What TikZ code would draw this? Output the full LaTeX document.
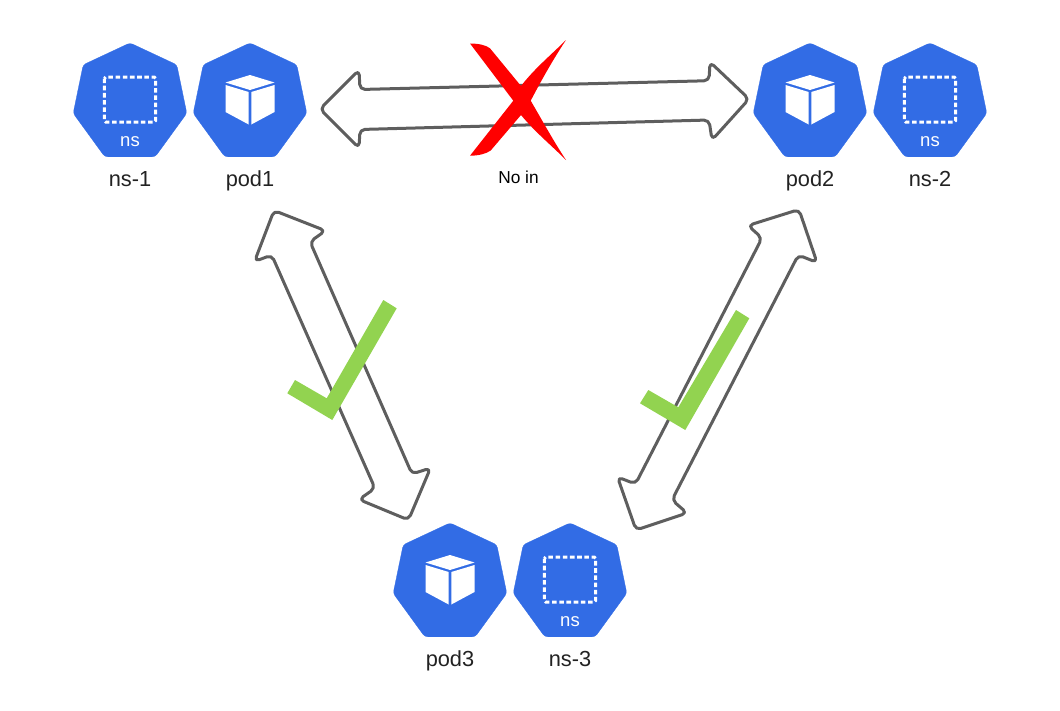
\documentclass[tikz,border=0pt]{standalone}
\usepackage{fontspec}
\setmainfont{Liberation Sans}
\definecolor{kblue}{HTML}{326CE5}
\definecolor{kgreen}{HTML}{92D350}
\definecolor{karrow}{HTML}{5E5E5E}
\definecolor{ktext}{HTML}{222222}
\tikzset{
  x=1pt,y=-1pt,
  hepta/.style={fill=kblue,draw=kblue,line width=.3pt,rounded corners=3pt,line join=round},
  blockarrow/.style={draw=karrow,line width=3pt,fill=white,rounded corners=5pt,line join=round},
  check/.style={fill=kgreen,draw=none},
  cross/.style={fill=red,draw=none},
  lbl/.style={text=ktext,font=\fontsize{21.8}{26}\selectfont,inner sep=0pt,anchor=base},
  small/.style={text=white,font=\fontsize{18.5}{22}\selectfont,inner sep=0pt,anchor=base},
  pics/heptagon/.style={code={
    \path[hepta] (0,-.1) -- (46.8,21.8) -- (56.8,70.3) -- (25.2,113.8) -- (-25.2,113.8) -- (-56.8,70.3) -- (-46.8,21.8) -- cycle;
  }},
  pics/cube/.style={code={
    \fill[white] (0,32) -- (24.5,39.5) -- (0,47) -- (-24.5,39.5) -- cycle;
    \fill[white] (-24.5,42) -- (-1.3,49) -- (-1.3,81.5) -- (-24.5,69) -- cycle;
    \fill[white] (24.5,42) -- (1.3,49) -- (1.3,81.5) -- (24.5,69) -- cycle;
  }},
  pics/nsbox/.style={code={
    \draw[white,line width=3pt,dash pattern=on 4.6pt off 2.6pt,rounded corners=1.5pt] (-25.7,34) rectangle (25.7,79);
    \node[small] (#1) at (0,103) {ns};
  }},
}
\begin{document}
\begin{tikzpicture}
\useasboundingbox (0,0) rectangle (1060,710);
% icons
\pic at (130,43) {heptagon}; \pic at (130,43) {nsbox=nsA};
\pic at (250,43) {heptagon}; \pic at (250,43) {cube};
\pic at (810,43) {heptagon}; \pic at (810,43) {cube};
\pic at (930,43) {heptagon}; \pic at (930,43) {nsbox=nsB};
\pic at (450,523) {heptagon}; \pic at (450,523) {cube};
\pic at (570,523) {heptagon}; \pic at (570,523) {nsbox=nsC};
% labels
\node[lbl] (l1) at (130,186.5) {ns-1};
\node[lbl] (l2) at (250,186.5) {pod1};
\node[lbl] (l3) at (810,186.5) {pod2};
\node[lbl] (l4) at (930,186.5) {ns-2};
\node[lbl] (l5) at (450,666.5) {pod3};
\node[lbl] (l6) at (570,666.5) {ns-3};
% block arrows
\draw[blockarrow] (320,109) -- (359,70) -- (360,89.5) -- (709,80.7) -- (710,62) -- (749,99) -- (712,140) -- (709,120) -- (360,129.5) -- (359,148) -- cycle;
\draw[blockarrow] (274,210.5) -- (325.5,230.7) -- (310,241.7) -- (412,474) -- (430.5,468) -- (408.5,520) -- (359,499.5) -- (375,488.3) -- (271.7,255) -- (254.5,261.5) -- cycle;
\draw[blockarrow] (799,209.5) -- (817,262.5) -- (798.3,255) -- (672,500) -- (687,513) -- (636,530) -- (617.5,477) -- (635.5,484) -- (762,238) -- (748,225.5) -- cycle;
% checks
\fill[check] (287.3,393.3) -- (295,380) -- (326.7,398.3) -- (383.3,300) -- (396.7,308.3) -- (332.3,420) -- cycle;
\fill[check] (640,403.3) -- (648.3,390) -- (678.3,407.3) -- (736,310) -- (749.3,318.3) -- (685.3,430) -- cycle;
% cross
\fill[cross] (470,43.5) .. controls (478,43.5) and (486,45) .. (490,48.3) -- (521,86)
  .. controls (535,68) and (551,55) .. (566,40) .. controls (554,58) and (542,79) .. (530.7,100.7)
  .. controls (542,120) and (554,142) .. (566,160) .. controls (551,145) and (535,132) .. (521,115)
  -- (490.7,150.5) .. controls (486,154) and (478,155.7) .. (470,155.7)
  -- (513.3,100.7) -- cycle;
\node[inner sep=0pt,anchor=base,text=black,font=\fontsize{17.3}{20}\selectfont] (noin) at (518.5,183) {No in};
\end{tikzpicture}
\end{document}
